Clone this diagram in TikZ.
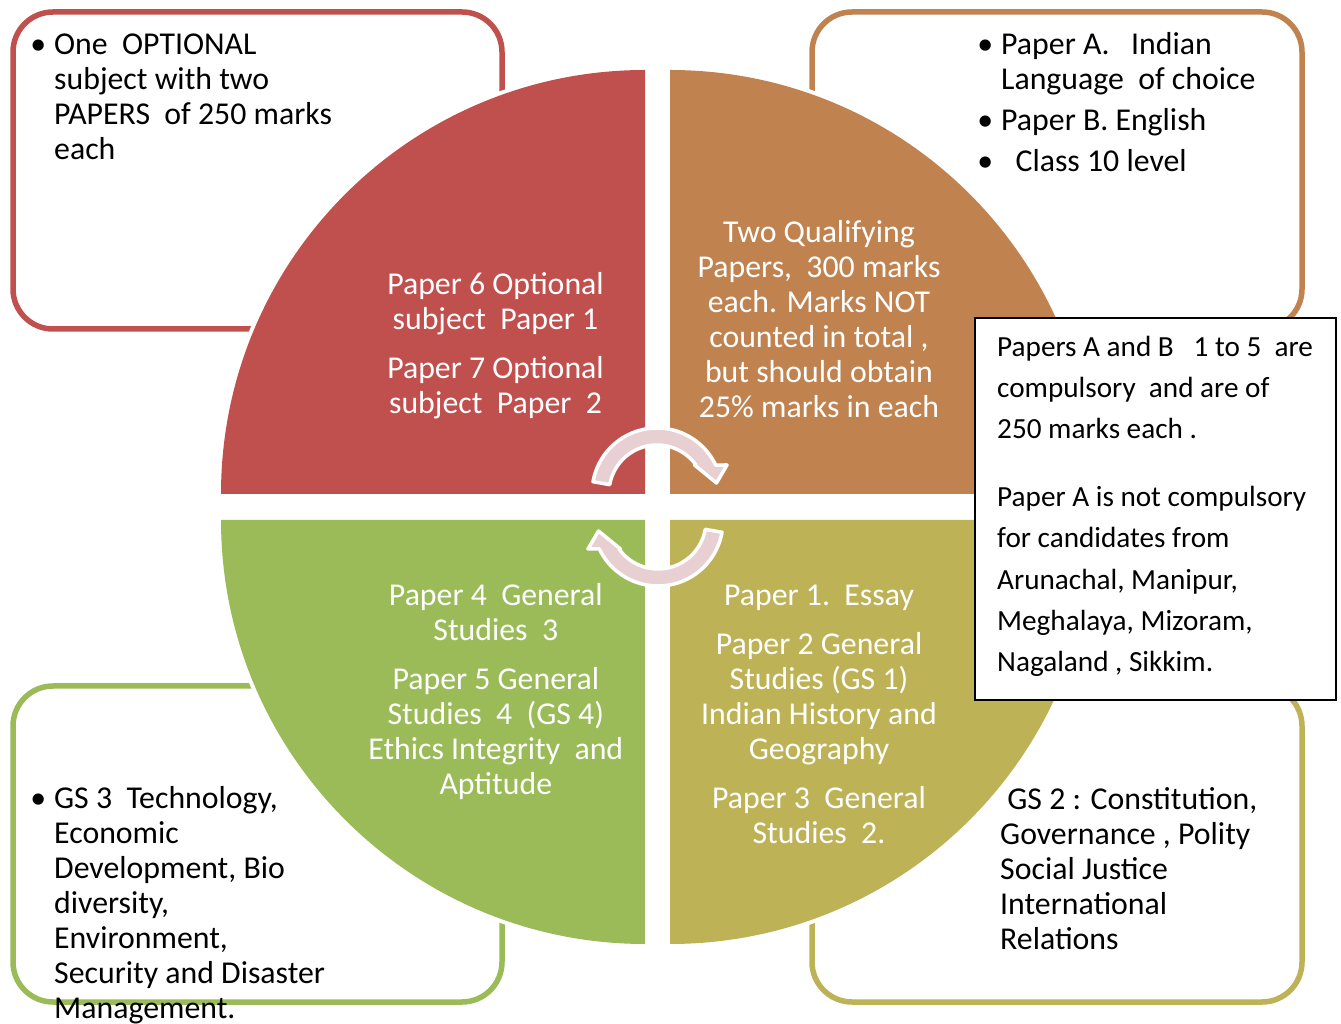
\documentclass[tikz,border=0pt]{standalone}
\usepackage{fontspec}
\setmainfont{Carlito}
\definecolor{optred}{RGB}{192,80,77}
\definecolor{qualbrown}{RGB}{192,131,80}
\definecolor{gsolive}{RGB}{190,178,86}
\definecolor{gsgreen}{RGB}{155,187,89}
\definecolor{cyclepink}{RGB}{232,208,210}
\tikzset{
  infobox/.style = {line width=5.5pt, rounded corners=40pt, fill=white},
  quarter/.style = {preaction={draw=white, line width=8pt}},
  cyclearrow/.style = {fill=cyclepink, draw=white, line width=3.5pt,
                       line join=round},
  boxtext/.style = {inner sep=0pt, align=left,
                    font=\fontsize{31.8}{35}\selectfont},
  pietext/.style = {inner sep=0pt, align=center, text=white,
                    font=\fontsize{31.8}{35}\selectfont},
  notetext/.style = {inner sep=0pt, align=left,
                     font=\fontsize{29.2}{41.3}\selectfont}
}
\newcommand{\bul}{\llap{\textbullet\hspace{8pt}}}

\begin{document}
\begin{tikzpicture}[x=1pt, y=1pt]
	\def \R{424}
	\useasboundingbox (0,0) rectangle (1341,1023);

	% Outer boxes
	\draw[infobox, draw=optred]    (13,1011)  rectangle (502,694);
	\draw[infobox, draw=qualbrown] (812,1011) rectangle (1302,694);
	\draw[infobox, draw=gsgreen]   (13,337)   rectangle (502,21);
	\draw[infobox, draw=gsolive]   (812,337)  rectangle (1302,21);

	% Quarters
	\fill[quarter, optred]    (645,529) -- (645-\R,529) arc[start angle=180, end angle=90, radius=\R] -- cycle;
	\fill[quarter, qualbrown] (670,529) -- (670,529+\R) arc[start angle=90, end angle=0, radius=\R] -- cycle;
	\fill[quarter, gsgreen]   (645,503) -- (645,503-\R) arc[start angle=270, end angle=180, radius=\R] -- cycle;
	\fill[quarter, gsolive]   (670,503) -- (670+\R,503) arc[start angle=0, end angle=-90, radius=\R] -- cycle;

	% Cycle arrows
	\begin{scope}[shift={(657,530)}]
		\filldraw[cyclearrow] (170:65) arc[start angle=170, end angle=25.5, radius=65]
			-- (70,28) -- (59.5,10) -- (37.5,28) -- (35.7:48)
			arc[start angle=35.7, end angle=170, radius=48] -- cycle;
	\end{scope}
	\begin{scope}[shift={(658,502)}, rotate=180]
		\filldraw[cyclearrow] (170:65) arc[start angle=170, end angle=25.5, radius=65]
			-- (70,28) -- (59.5,10) -- (37.5,28) -- (35.7:48)
			arc[start angle=35.7, end angle=170, radius=48] -- cycle;
	\end{scope}

	% Note box
	\draw[fill=white, line width=2pt] (975,705) rectangle (1336,323);

	% Quarter texts (anchored at the last line)
	\node[pietext, anchor=base] (optional) at (495.5,609)
		{Paper 6 Optional\\subject\ \ Paper 1\\[14pt]Paper 7 Optional\\subject\ \ Paper\ \ 2};
	\node[pietext, anchor=base] (qualifying) at (819,605.7)
		{Two Qualifying\\Papers,\ \ 300 marks\\each. Marks NOT\\counted in total ,\\but should obtain\\25\% marks in each};
	\node[pietext, anchor=base] (gsthree) at (495.8,228)
		{Paper 4\ \ General\\Studies\ \ 3\\[14pt]Paper 5 General\\Studies\ \ 4\ \ (GS 4)\\Ethics Integrity\ \ and\\Aptitude};
	\node[pietext, anchor=base] (essay) at (819,179.7)
		{Paper 1.\ \ Essay\\[14pt]Paper 2 General\\Studies (GS 1)\\Indian History and\\Geography\\[14pt]Paper 3\ \ General\\Studies\ \ 2.};

	% Box texts
	\node[boxtext, anchor=base west] (optinfo) at (54,863)
		{\bul One\ \ OPTIONAL\\subject with two\\PAPERS\ \ of 250 marks\\each};
	\node[boxtext, anchor=base west] (langinfo) at (1001,851)
		{\bul Paper A.\ \ \ Indian\\Language\ \ of choice\\[6pt]\bul Paper B. English\\[6pt]\bul\ \ Class 10 level};
	\node[boxtext, anchor=base west] (gsthreeinfo) at (54,4.7)
		{\bul GS 3\ \ Technology,\\Economic\\Development, Bio\\diversity,\\Environment,\\Security and Disaster\\Management.};
	\node[boxtext, anchor=base west] (gstwoinfo) at (1000,74)
		{\ GS 2 : Constitution,\\Governance , Polity\\Social Justice\\International\\Relations};
	\node[notetext, anchor=base west] (note) at (997,351.3)
		{Papers A and B\ \ \ 1 to 5\ \ are\\compulsory\ \ and are of\\250 marks each .\\[26.4pt]Paper A is not compulsory\\for candidates from\\Arunachal, Manipur,\\Meghalaya, Mizoram,\\Nagaland , Sikkim.};

\end{tikzpicture}
\end{document}
